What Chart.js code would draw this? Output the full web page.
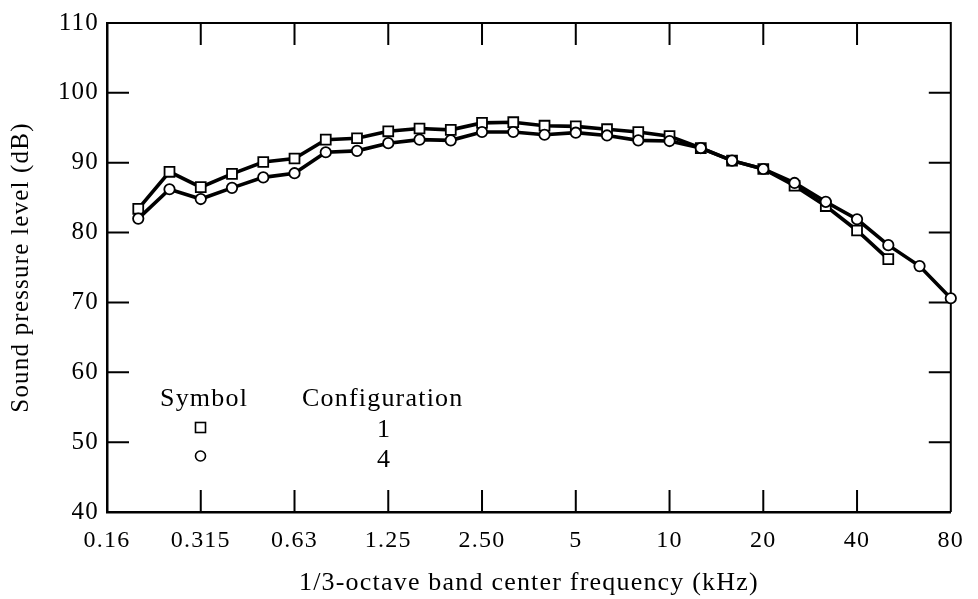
<!DOCTYPE html>
<html>
<head>
<meta charset="utf-8">
<script src="https://cdn.jsdelivr.net/npm/chart.js@4.4.0/dist/chart.umd.min.js"></script>
<style>
  html, body { margin: 0; padding: 0; background: #fff; }
  #wrap { width: 978px; height: 599px; }
</style>
</head>
<body>
<div id="wrap"><canvas id="splChart"></canvas></div>
<script>
// 1/3-octave band centres (kHz), one slot each along the x axis
const bands = ["0.16", "0.20", "0.25", "0.315", "0.40", "0.50", "0.63", "0.80", "1.0", "1.25",
  "1.6", "2.0", "2.50", "3.15", "4.0", "5", "6.3", "8", "10", "12.5",
  "16", "20", "25", "31.5", "40", "50", "63", "80"];
const tickLabels = ["0.16", "0.315", "0.63", "1.25", "2.50", "5", "10", "20", "40", "80"];
const yTicks = [40, 50, 60, 70, 80, 90, 100, 110];

// Sound pressure level (dB) - configuration 1 (squares)
const config1 = [null, 83.4, 88.7, 86.5, 88.4, 90.1, 90.6, 93.3, 93.5, 94.5,
  94.9, 94.7, 95.7, 95.8, 95.3, 95.2, 94.8, 94.4, 93.8, 92.1,
  90.3, 89.1, 86.7, 83.8, 80.3, 76.2, null, null];
// configuration 4 (circles)
const config4 = [null, 82.0, 86.2, 84.8, 86.4, 87.9, 88.5, 91.5, 91.7, 92.8,
  93.3, 93.2, 94.4, 94.4, 94.0, 94.3, 93.9, 93.2, 93.1, 92.1,
  90.3, 89.1, 87.1, 84.4, 81.9, 78.2, 75.2, 70.6];

const serif = "'Liberation Serif', 'Times New Roman', serif";
const spacing = "1.2px";

// canvas state is reset on resize, so set letter spacing before each pass
const spacingPlugin = {
  id: "spacing",
  beforeUpdate(chart) { chart.ctx.letterSpacing = spacing; },
  beforeDraw(chart) { chart.ctx.letterSpacing = spacing; }
};

// frame on top/right plus inward tick marks on all four sides
const framePlugin = {
  id: "frame",
  beforeDatasetsDraw(chart) {
    const ctx = chart.ctx;
    const { left, right, top, bottom } = chart.chartArea;
    const xs = chart.scales.x, ys = chart.scales.y;
    const len = 22;
    ctx.save();
    ctx.strokeStyle = "#000";
    ctx.lineWidth = 2;
    ctx.beginPath();
    ctx.moveTo(left, top); ctx.lineTo(right, top); ctx.lineTo(right, bottom);
    tickLabels.forEach(t => {
      const i = bands.indexOf(t);
      if (i === 0 || i === bands.length - 1) return;
      const px = xs.getPixelForValue(i);
      ctx.moveTo(px, bottom); ctx.lineTo(px, bottom - len);
      ctx.moveTo(px, top); ctx.lineTo(px, top + len);
    });
    yTicks.slice(1, -1).forEach(v => {
      const py = ys.getPixelForValue(v);
      ctx.moveTo(left, py); ctx.lineTo(left + len, py);
      ctx.moveTo(right, py); ctx.lineTo(right - len, py);
    });
    ctx.stroke();
    ctx.restore();
  }
};

// the "Symbol / Configuration" key inside the plot
const keyPlugin = {
  id: "key",
  afterDraw(chart) {
    const ctx = chart.ctx;
    const { left, bottom } = chart.chartArea;
    ctx.save();
    ctx.letterSpacing = spacing;
    ctx.fillStyle = "#000";
    ctx.font = "26px " + serif;
    ctx.textBaseline = "alphabetic";
    ctx.textAlign = "left";
    ctx.fillText("Symbol", left + 53, bottom - 106);
    ctx.fillText("Configuration", left + 195, bottom - 106);
    ctx.textAlign = "center";
    ctx.fillText("1", left + 277, bottom - 75);
    ctx.fillText("4", left + 277, bottom - 45);

    ctx.strokeStyle = "#000";
    ctx.lineWidth = 1.6;
    ctx.strokeRect(left + 88.5, bottom - 89.5, 10, 10);
    ctx.beginPath();
    ctx.arc(left + 93.5, bottom - 56, 5, 0, Math.PI * 2);
    ctx.stroke();
    ctx.restore();
  }
};

const ctx = document.getElementById("splChart").getContext("2d");
new Chart(ctx, {
  type: "line",
  data: {
    labels: bands,
    datasets: [
      {
        label: "1",
        data: config1,
        order: 2,
        borderColor: "#000",
        borderWidth: 3.6,
        pointStyle: "rect",
        pointRadius: 7,
        pointBorderWidth: 1.8,
        pointBackgroundColor: "#fff",
        pointBorderColor: "#000",
        clip: false
      },
      {
        label: "4",
        data: config4,
        order: 1,
        borderColor: "#000",
        borderWidth: 3.6,
        pointStyle: "circle",
        pointRadius: 5.2,
        pointBorderWidth: 1.8,
        pointBackgroundColor: "#fff",
        pointBorderColor: "#000",
        clip: false
      }
    ]
  },
  options: {
    responsive: true,
    maintainAspectRatio: false,
    animation: false,
    layout: { padding: { top: 15, right: 19, left: 0, bottom: 0 } },
    plugins: { legend: { display: false }, tooltip: { enabled: false } },
    scales: {
      x: {
        type: "category",
        offset: false,
        grid: { display: false, drawTicks: false },
        border: { display: true, color: "#000", width: 2.5 },
        ticks: {
          autoSkip: false,
          maxRotation: 0,
          padding: 14,
          color: "#000",
          font: { family: serif, size: 24 },
          callback: (val, i) => tickLabels.includes(bands[i]) ? bands[i] : ""
        },
        title: {
          display: true,
          text: "1/3-octave band center frequency (kHz)",
          color: "#000",
          font: { family: serif, size: 26 },
          padding: { top: 0, bottom: 0 }
        },
        afterFit(scale) { scale.height = 87; }
      },
      y: {
        min: 40,
        max: 110,
        grid: { display: false, drawTicks: false },
        border: { display: true, color: "#000", width: 2.5 },
        ticks: {
          stepSize: 10,
          padding: 8,
          color: "#000",
          font: { family: serif, size: 25 }
        },
        title: {
          display: true,
          text: "Sound pressure level (dB)",
          color: "#000",
          font: { family: serif, size: 25 },
          padding: { top: 6, bottom: 0 }
        },
        afterFit(scale) { scale.width = 107; }
      }
    }
  },
  plugins: [spacingPlugin, framePlugin, keyPlugin]
});
</script>
</body>
</html>
